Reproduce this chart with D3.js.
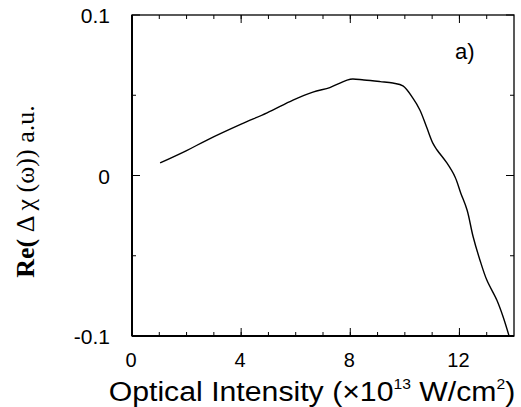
<!DOCTYPE html>
<meta charset="utf-8">
<style>
  body { margin: 0; background: #fff; }
  text { fill: #000; }
</style>
<script src="https://d3js.org/d3.v7.min.js"></script>
<div id="chart"></div>
<script>

// data
var intensity = [1.03, 2.0, 2.75, 4.0, 4.95, 5.9, 6.63, 7.25, 7.62, 8.0, 8.5, 9.1, 9.56, 9.93, 10.3, 10.55, 10.8, 11.03, 11.18, 11.54, 11.84, 12.05, 12.28, 12.5, 12.75, 13.0, 13.37, 13.6, 13.82];
var reChi    = [0.0078, 0.0155, 0.0221, 0.032, 0.039, 0.047, 0.052, 0.0548, 0.0576, 0.0600, 0.0595, 0.0585, 0.0576, 0.0558, 0.048, 0.0408, 0.030, 0.020, 0.0159, 0.0078, -0.0009, -0.011, -0.0215, -0.038, -0.0526, -0.065, -0.0776, -0.088, -0.1];

var xTicks = [0, 4, 8, 12];
var yTicks = [-0.1, 0, 0.1];
var yLabels = ["-0.1", "0", "0.1"];

var margin = {top: 15, right: 7, bottom: 71, left: 132},
    width = 521 - margin.left - margin.right,
    height = 407 - margin.top - margin.bottom;

var svg = d3.select("#chart")
  .append("svg")
    .attr("width", 521)
    .attr("height", 407)
  .append("g")
    .attr("transform", "translate(" + margin.left + "," + margin.top + ")");

var x = d3.scaleLinear().domain([0, 14]).range([0, width]);
var y = d3.scaleLinear().domain([-0.1, 0.1]).range([height, 0]);

// frame
svg.append("rect")
  .attr("width", width).attr("height", height)
  .attr("fill", "none").attr("stroke", "#000").attr("stroke-width", 1.3);
svg.append("line").attr("x1", 0).attr("x2", 0).attr("y1", 0).attr("y2", height)
  .attr("stroke", "#000").attr("stroke-width", 2);
svg.append("line").attr("x1", 0).attr("x2", width).attr("y1", height).attr("y2", height)
  .attr("stroke", "#000").attr("stroke-width", 2);

// ticks (inward, on all four sides)
var minorX = d3.range(1, 14);
var minorY = [-0.05, 0.05];
function tickLines(vals, len, axis) {
  vals.forEach(function(v) {
    if (axis == "x") {
      svg.append("line").attr("x1", x(v)).attr("x2", x(v)).attr("y1", height).attr("y2", height - len).attr("stroke", "#000");
      svg.append("line").attr("x1", x(v)).attr("x2", x(v)).attr("y1", 0).attr("y2", len).attr("stroke", "#000");
    } else {
      svg.append("line").attr("y1", y(v)).attr("y2", y(v)).attr("x1", 0).attr("x2", len).attr("stroke", "#000");
      svg.append("line").attr("y1", y(v)).attr("y2", y(v)).attr("x1", width).attr("x2", width - len).attr("stroke", "#000");
    }
  });
}
tickLines(minorX, 4, "x");
tickLines(xTicks, 8, "x");
tickLines(minorY, 4, "y");
tickLines(yTicks, 8, "y");

// tick labels
svg.selectAll(".xl").data(xTicks).enter().append("text")
  .attr("x", function(d) { return x(d) - 1; })
  .attr("y", height + 31)
  .attr("text-anchor", "middle")
  .style("font", "20px Arial, 'Liberation Sans', sans-serif")
  .text(function(d) { return d; });

svg.selectAll(".yl").data(yTicks).enter().append("text")
  .attr("x", -22)
  .attr("y", function(d) { return y(d) + 8; })
  .attr("text-anchor", "end")
  .style("font", "21px Arial, 'Liberation Sans', sans-serif")
  .text(function(d, i) { return yLabels[i]; });

// curve
var line = d3.line()
  .x(function(d, i) { return x(d); })
  .y(function(d, i) { return y(reChi[i]); })
  .curve(d3.curveCatmullRom.alpha(0.5));

svg.append("path")
  .datum(intensity)
  .attr("fill", "none")
  .attr("stroke", "#000")
  .attr("stroke-width", 1.4)
  .attr("d", line);

// panel label
svg.append("text")
  .attr("x", 323).attr("y", 44)
  .style("font", "22px Arial, 'Liberation Sans', sans-serif")
  .text("a)");

// x axis title
var xt = svg.append("text")
  .attr("transform", "translate(180," + (height + 65) + ") scale(1.12,1)")
  .attr("text-anchor", "middle")
  .style("font", "27px Arial, 'Liberation Sans', sans-serif");
xt.append("tspan").text("Optical Intensity (\u00d710");
xt.append("tspan").attr("dy", -12).style("font-size", "14px").text("13");
xt.append("tspan").attr("dy", 12).text(" W/cm");
xt.append("tspan").attr("dy", -12).style("font-size", "14px").text("2");
xt.append("tspan").attr("dy", 12).text(")");

// y axis title
var yt = svg.append("text")
  .attr("transform", "translate(-98," + (height / 2 + 16) + ") rotate(-90)")
  .attr("text-anchor", "middle")
  .style("font", "26px 'Times New Roman', 'Liberation Serif', serif");
yt.append("tspan").style("font-weight", "bold").text("Re(");
yt.append("tspan").text(" \u0394 \u03c7 (\u03c9)) a.u.");

</script>
